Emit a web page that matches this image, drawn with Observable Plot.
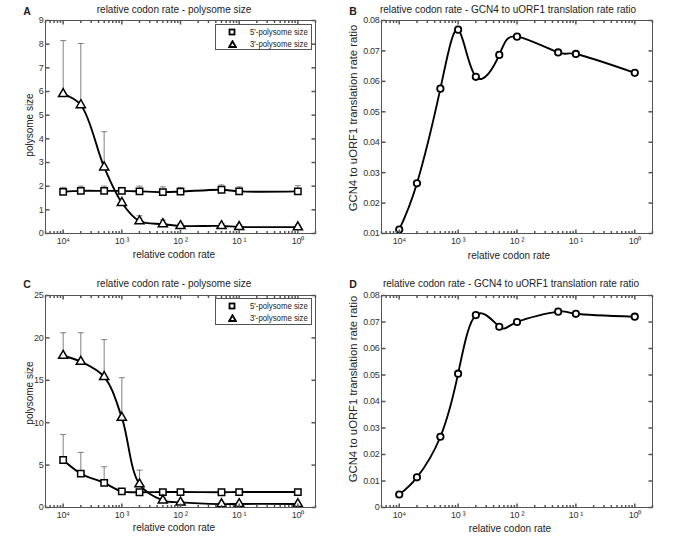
<!DOCTYPE html>
<html>
<head>
<meta charset="utf-8">
<script src="https://cdn.jsdelivr.net/npm/d3@7"></script>
<script src="https://cdn.jsdelivr.net/npm/@observablehq/plot@0.6"></script>
<style>
  body { margin: 0; background: #fff; }
  #fig { position: relative; width: 685px; height: 536px; background: #fff; font-family: "Liberation Sans", Arial, Helvetica, sans-serif; color: #222; overflow: hidden; }
  #fig svg.plot { position: absolute; }
  .t { position: absolute; white-space: nowrap; transform: translate(-50%, -50%); line-height: 1; }
  .title { font-size: 10px; }
  .xlab { font-size: 10px; }
  .ylab { font-size: 10px; transform: translate(-50%, -50%) rotate(-90deg); }
  .ylab.big { font-size: 11.3px; }
  .letter { font-size: 10.5px; font-weight: bold; }
  .legend { position: absolute; border: 1px solid #555; background: #fff; font-size: 9.5px; padding-top: 1px; box-sizing: border-box; color: #222; }
  .legend div { position: relative; height: 11.6px; line-height: 11.6px; white-space: nowrap; }
  .legend svg { position: absolute; left: 12px; top: 2px; }
  .legend span { position: absolute; left: 34px; white-space: nowrap; display: inline-block; transform: scaleX(0.82); transform-origin: 0 50%; }
</style>
</head>
<body>
<div id="fig"></div>
<script>
// ---------------- data ----------------
const rates = [1e-4, 2e-4, 5e-4, 1e-3, 2e-3, 5e-3, 1e-2, 5e-2, 1e-1, 1];
const xTickValues = [1e-4, 1e-3, 1e-2, 1e-1, 1];
const xTickLabels = ["10\u2074", "10 \u00B3", "10 \u00B2", "10 \u00B9", "10\u2070"];

// Panel A (polysome size)
const a5 = [1.76, 1.80, 1.80, 1.80, 1.78, 1.75, 1.77, 1.85, 1.78, 1.78];
const a5Upper = [1.95, 2.00, 2.00, 1.95, 2.00, 1.97, 1.95, 2.05, 1.97, 2.02];
const a3 = [5.9, 5.43, 2.8, 1.3, 0.52, 0.40, 0.32, 0.32, 0.28, 0.27];
const a3Upper = [8.15, 8.03, 4.3, 1.35, 0.75, 0.57, 0.42, 0.42, 0.37, 0.35];
const aYTicks = [0, 1, 2, 3, 4, 5, 6, 7, 8, 9];
const aYLabels = ["0", "1", "2", "3", "4", "5", "6", "7", "8", "9"];

// Panel B (ratio)
const bRatio = [0.0113, 0.0265, 0.0576, 0.0770, 0.0615, 0.0687, 0.0747, 0.0695, 0.0690, 0.0628];
const bYTicks = [0.01, 0.02, 0.03, 0.04, 0.05, 0.06, 0.07, 0.08];
const bYLabels = ["0.01", "0.02", "0.03", "0.04", "0.05", "0.06", "0.07", "0.08"];

// Panel C (polysome size)
const c5 = [5.6, 4.0, 2.9, 1.9, 1.8, 1.82, 1.82, 1.8, 1.82, 1.82];
const c5Upper = [8.6, 6.5, 4.8, 2.1, 2.0, 2.0, 2.0, 2.0, 2.0, 2.0];
const c3 = [17.9, 17.2, 15.4, 10.6, 2.75, 0.85, 0.6, 0.4, 0.42, 0.42];
const c3Upper = [20.6, 20.6, 19.8, 15.3, 4.4, 1.1, 0.8, 0.6, 0.6, 0.6];
const cYTicks = [0, 5, 10, 15, 20, 25];
const cYLabels = ["0", "5", "10", "15", "20", "25"];

// Panel D (ratio)
const dRatio = [0.0049, 0.0114, 0.0267, 0.0505, 0.0726, 0.0682, 0.0700, 0.0739, 0.0731, 0.0720];
const dYTicks = [0, 0.01, 0.02, 0.03, 0.04, 0.05, 0.06, 0.07, 0.08];
const dYLabels = ["0", "0.01", "0.02", "0.03", "0.04", "0.05", "0.06", "0.07", "0.08"];

const titlePoly = "relative codon rate - polysome size";
const titleRatio = "relative codon rate - GCN4 to uORF1 translation rate ratio";
const xTitle = "relative codon rate";
const yTitlePoly = "polysome size";
const yTitleRatio = "GCN4 to uORF1 translation rate ratio";
const legendLabels = ["5'-polysome size", "3'-polysome size"];

// ---------------- helpers ----------------
const X_DOMAIN = [5e-5, 2];
const W = 345, H = 270;
const frameColor = "#555";
const tickFont = "'Liberation Sans', Arial, sans-serif";

function lineSym(dx1, dy1, dx2, dy2) {
  return { draw(ctx) { ctx.moveTo(dx1, dy1); ctx.lineTo(dx2, dy2); } };
}
const tickUp = len => lineSym(0, 0, 0, -len);
const tickDown = len => lineSym(0, 0, 0, len);
const tickRight = len => lineSym(0, 0, len, 0);
const tickLeft = len => lineSym(0, 0, -len, 0);
const capSym = lineSym(-3, 0, 3, 0);

const minorX = d3.scaleLog().domain(X_DOMAIN).ticks().filter(v => !xTickValues.some(t => Math.abs(t - v) / t < 1e-9));

function rows(ys, uppers) {
  return rates.map((r, i) => ({ x: r, y: ys[i], up: uppers ? uppers[i] : null }));
}

function makePanel({ left, top, margins, yDomain, yTicks, yLabels, series }) {
  const xLab = new Map(xTickValues.map((v, i) => [v, xTickLabels[i]]));
  const yLab = new Map(yTicks.map((v, i) => [v, yLabels[i]]));
  const marks = [];
  for (const s of series) {
    if (!s.upper) continue;
    const d = rows(s.y, s.upper);
    marks.push(Plot.ruleX(d, { x: "x", y1: "y", y2: "up", stroke: "#808080", strokeWidth: 1 }));
    marks.push(Plot.dot(d, { x: "x", y: "up", symbol: capSym, stroke: "#808080", fill: "none", strokeWidth: 1 }));
  }
  for (const s of series) {
    marks.push(Plot.line(rows(s.y), { x: "x", y: "y", stroke: "#000", strokeWidth: 1.9, curve: s.curve }));
  }
  for (const s of series) {
    marks.push(Plot.dot(rows(s.y), { x: "x", y: "y", symbol: s.symbol, r: s.r, fill: "#fff", stroke: "#000", strokeWidth: s.sw }));
  }
  marks.push(Plot.frame({ stroke: frameColor, strokeWidth: 1 }));
  marks.push(Plot.dot(xTickValues, { x: d => d, frameAnchor: "bottom", symbol: tickUp(4), stroke: frameColor, fill: "none" }));
  marks.push(Plot.dot(xTickValues, { x: d => d, frameAnchor: "top", symbol: tickDown(4), stroke: frameColor, fill: "none" }));
  marks.push(Plot.dot(minorX, { x: d => d, frameAnchor: "bottom", symbol: tickUp(2.5), stroke: frameColor, fill: "none" }));
  marks.push(Plot.dot(minorX, { x: d => d, frameAnchor: "top", symbol: tickDown(2.5), stroke: frameColor, fill: "none" }));
  marks.push(Plot.dot(yTicks, { y: d => d, frameAnchor: "left", symbol: tickRight(4), stroke: frameColor, fill: "none" }));
  marks.push(Plot.dot(yTicks, { y: d => d, frameAnchor: "right", symbol: tickLeft(4), stroke: frameColor, fill: "none" }));
  marks.push(Plot.axisX({ ticks: xTickValues, tickFormat: d => xLab.get(d), tickSize: 0, tickPadding: 4, label: null, fill: "#333" }));
  marks.push(Plot.axisY({ ticks: yTicks, tickFormat: d => yLab.get(d), tickSize: 0, tickPadding: 2, label: null, fill: "#333" }));

  const svg = Plot.plot({
    width: W, height: H,
    marginLeft: margins[0], marginRight: margins[1], marginTop: margins[2], marginBottom: margins[3],
    x: { type: "log", domain: X_DOMAIN },
    y: { domain: yDomain },
    style: { fontFamily: tickFont, fontSize: "9px", letterSpacing: "-0.3px", background: "transparent", overflow: "visible" },
    marks
  });
  svg.classList.add("plot");
  svg.style.left = left + "px";
  svg.style.top = top + "px";
  return svg;
}

const fig = document.getElementById("fig");
function addText(cls, txt, x, y) {
  const el = document.createElement("div");
  el.className = "t " + cls;
  el.textContent = txt;
  el.style.left = x + "px";
  el.style.top = y + "px";
  fig.appendChild(el);
}
function addLegend(x, y, w, h) {
  const box = document.createElement("div");
  box.className = "legend";
  box.style.left = x + "px";
  box.style.top = y + "px";
  box.style.width = w + "px";
  box.style.height = h + "px";
  const syms = [
    '<svg width="8" height="8"><rect x="1.5" y="1.5" width="5" height="5" fill="#fff" stroke="#000" stroke-width="1.8"/></svg>',
    '<svg width="9" height="8"><path d="M4.5,1.2 L7.8,7 L1.2,7 Z" fill="#fff" stroke="#000" stroke-width="1.9" stroke-linejoin="miter"/></svg>'
  ];
  legendLabels.forEach((lab, i) => {
    const row = document.createElement("div");
    row.innerHTML = syms[i] + "<span>" + lab + "</span>";
    box.appendChild(row);
  });
  fig.appendChild(box);
}

const polySeries = (y5, u5, y3, u3) => [
  { y: y5, upper: u5, symbol: "square", r: 3.6, sw: 1.5, curve: "catmull-rom" },
  { y: y3, upper: u3, symbol: "triangle", r: 3.4, sw: 1.5, curve: "catmull-rom" }
];

fig.appendChild(makePanel({ left: 0, top: 0, margins: [45, 30, 20, 37], yDomain: [0, 9], yTicks: aYTicks, yLabels: aYLabels,
  series: polySeries(a5, a5Upper, a3, a3Upper) }));
fig.appendChild(makePanel({ left: 340, top: 0, margins: [41, 33, 20, 37], yDomain: [0.01, 0.08], yTicks: bYTicks, yLabels: bYLabels,
  series: [{ y: bRatio, symbol: "circle", r: 3.2, sw: 1.8, curve: "natural" }] }));
fig.appendChild(makePanel({ left: 0, top: 266, margins: [45, 30, 29, 29], yDomain: [0, 25], yTicks: cYTicks, yLabels: cYLabels,
  series: polySeries(c5, c5Upper, c3, c3Upper) }));
fig.appendChild(makePanel({ left: 340, top: 266, margins: [41, 33, 29, 29], yDomain: [0, 0.08], yTicks: dYTicks, yLabels: dYLabels,
  series: [{ y: dRatio, symbol: "circle", r: 3.2, sw: 1.8, curve: "natural" }] }));

addText("letter", "A", 27, 11);
addText("title", titlePoly, 174, 10);
addText("xlab", xTitle, 174, 255);
addText("ylab", yTitlePoly, 30, 125);
addText("letter", "B", 353, 11);
addText("title", titleRatio, 508, 10);
addText("xlab", xTitle, 509, 256);
addText("ylab big", yTitleRatio, 354, 118);
addText("letter", "C", 27, 284);
addText("title", titlePoly, 174, 284);
addText("xlab", xTitle, 174, 528);
addText("ylab", yTitlePoly, 30, 393);
addText("letter", "D", 353, 284);
addText("title", titleRatio, 511, 284);
addText("xlab", xTitle, 510, 529);
addText("ylab big", yTitleRatio, 354, 389);

addLegend(215, 24, 97, 26);
addLegend(215, 298, 97, 27);
</script>
</body>
</html>
